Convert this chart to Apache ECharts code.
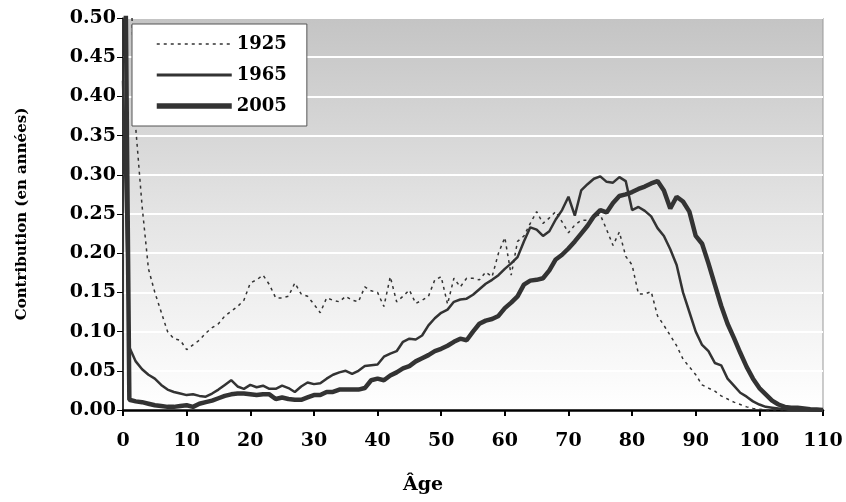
<!DOCTYPE html>
<html>
<head>
<meta charset="utf-8">
<script src="https://cdn.jsdelivr.net/npm/echarts@6/dist/echarts.min.js"></script>
<style>
  html, body { margin: 0; padding: 0; background: #fff; }
  #chart { width: 846px; height: 502px; }
</style>
</head>
<body>
<div id="chart"></div>
<script>
// ages 0..110
var ages = [];
for (var a = 0; a <= 110; a++) ages.push(a);

// contributions (years); age 0 of 1925/2005 runs off the top
var c1925 = [2.0, 0.6, 0.36, 0.26, 0.18, 0.15, 0.125, 0.10, 0.091, 0.089,
  0.077, 0.083, 0.089, 0.098, 0.105, 0.11, 0.12, 0.126, 0.132, 0.14,
  0.162, 0.166, 0.172, 0.16, 0.143, 0.143, 0.145, 0.162, 0.148, 0.145,
  0.135, 0.124, 0.143, 0.14, 0.138, 0.145, 0.14, 0.138, 0.157, 0.152,
  0.15, 0.132, 0.17, 0.138, 0.145, 0.153, 0.136, 0.14, 0.145, 0.166,
  0.17, 0.135, 0.168, 0.157, 0.168, 0.168, 0.166, 0.176, 0.17, 0.2,
  0.22, 0.172, 0.215, 0.222, 0.238, 0.253, 0.238, 0.245, 0.253, 0.24,
  0.226, 0.236, 0.242, 0.242, 0.247, 0.249, 0.23, 0.21, 0.227, 0.196,
  0.185, 0.148, 0.148, 0.151, 0.12, 0.108, 0.095, 0.082, 0.065, 0.055,
  0.045, 0.032, 0.028, 0.024, 0.018, 0.014, 0.01, 0.007, 0.004, 0.002,
  0.001, 0, 0, 0, 0, 0, 0, 0, 0, 0, 0];

var c1965 = [0.42, 0.08, 0.062, 0.052, 0.045, 0.04, 0.032, 0.026, 0.023, 0.021,
  0.019, 0.02, 0.018, 0.017, 0.021, 0.026, 0.032, 0.038, 0.03, 0.027,
  0.032, 0.029, 0.031, 0.027, 0.027, 0.031, 0.028, 0.023, 0.03, 0.035,
  0.033, 0.034, 0.04, 0.045, 0.048, 0.05, 0.046, 0.05, 0.056, 0.057,
  0.058, 0.068, 0.072, 0.075, 0.087, 0.091, 0.09, 0.095, 0.108, 0.117,
  0.124, 0.128, 0.138, 0.141, 0.142, 0.147, 0.154, 0.161, 0.166, 0.172,
  0.18, 0.187, 0.195, 0.215, 0.233, 0.23, 0.222, 0.228, 0.243, 0.255,
  0.272, 0.248, 0.28, 0.288, 0.295, 0.298, 0.291, 0.29, 0.297, 0.292,
  0.255, 0.259, 0.254, 0.247, 0.232, 0.222, 0.205, 0.185, 0.15, 0.125,
  0.1, 0.083, 0.075, 0.06, 0.057, 0.04, 0.031, 0.022, 0.017, 0.011,
  0.007, 0.004, 0.003, 0.002, 0.001, 0, 0, 0, 0, 0, 0];

var c2005 = [0.9, 0.013, 0.011, 0.01, 0.008, 0.006, 0.005, 0.004, 0.004, 0.005,
  0.006, 0.004, 0.008, 0.01, 0.012, 0.015, 0.018, 0.02, 0.021, 0.021,
  0.02, 0.019, 0.02, 0.02, 0.014, 0.016, 0.014, 0.013, 0.013, 0.016,
  0.019, 0.019, 0.023, 0.023, 0.026, 0.026, 0.026, 0.026, 0.028, 0.038,
  0.04, 0.038, 0.044, 0.048, 0.053, 0.056, 0.062, 0.066, 0.07, 0.075,
  0.078, 0.082, 0.087, 0.091, 0.089, 0.1, 0.11, 0.114, 0.116, 0.12,
  0.13, 0.137, 0.145, 0.16, 0.165, 0.166, 0.168, 0.178, 0.192, 0.198,
  0.206, 0.215, 0.225, 0.235, 0.247, 0.255, 0.252, 0.264, 0.273, 0.275,
  0.278, 0.282, 0.285, 0.289, 0.292, 0.28, 0.257, 0.272, 0.266, 0.253,
  0.222, 0.212, 0.187, 0.16, 0.133, 0.11, 0.092, 0.073, 0.055, 0.04,
  0.028, 0.02, 0.012, 0.007, 0.004, 0.003, 0.003, 0.002, 0.001, 0.0005, 0];

var seriesNames = ['1925', '1965', '2005'];
var yTicks = ['0.00', '0.05', '0.10', '0.15', '0.20', '0.25', '0.30', '0.35', '0.40', '0.45', '0.50'];

function pairs(vals) {
  return ages.map(function (x, i) { return [x, vals[i]]; });
}

var font = 'DejaVu Serif';
var ink = '#333333';
var dotted = [3, 4];

var myChart = echarts.init(document.getElementById('chart'));

option = {
    backgroundColor: '#fff',
    animation: false,
    title: {
        text: 'Âge',
        left: 'center',
        top: 471,
        textStyle: { fontFamily: font, fontWeight: 'bold', fontSize: 19, color: '#000' }
    },
    grid: {
        left: 123, right: 23, top: 18, bottom: 92,
        show: true,
        borderColor: '#999',
        borderWidth: 1,
        backgroundColor: {
            type: 'linear', x: 0, y: 0, x2: 0, y2: 1,
            colorStops: [
                { offset: 0, color: '#c4c4c4' },
                { offset: 0.5, color: '#e4e4e4' },
                { offset: 1, color: '#ffffff' }
            ]
        }
    },
    legend: {
        data: [
            { name: '1925', lineStyle: { width: 1.5, type: dotted } },
            { name: '1965', lineStyle: { width: 3 } },
            { name: '2005', lineStyle: { width: 5.5 } }
        ],
        orient: 'vertical',
        left: 132,
        top: 24,
        padding: [9, 20, 9, 22],
        itemWidth: 75,
        itemHeight: 14,
        itemGap: 9,
        backgroundColor: '#fff',
        borderColor: '#555',
        borderWidth: 1,
        itemStyle: { opacity: 0 },
        textStyle: { fontFamily: font, fontWeight: 'bold', fontSize: 18, color: '#000', lineHeight: 22 }
    },
    xAxis: {
        type: 'value',
        min: 0, max: 110, interval: 10,
        axisLine: { lineStyle: { color: '#000', width: 2.5 } },
        axisTick: { length: 6, lineStyle: { color: '#000', width: 2 } },
        splitLine: { show: false },
        axisLabel: { fontFamily: font, fontWeight: 'bold', fontSize: 19, color: '#000', margin: 22 }
    },
    yAxis: {
        type: 'value',
        min: 0, max: 0.5, interval: 0.05,
        name: 'Contribution (en années)',
        nameLocation: 'middle',
        nameGap: 93,
        nameTextStyle: { fontFamily: font, fontWeight: 'bold', fontSize: 15, color: '#000' },
        axisLine: { show: true, lineStyle: { color: '#000', width: 1.5 } },
        axisTick: { show: true, length: 6, lineStyle: { color: '#000', width: 1 } },
        splitLine: { lineStyle: { color: '#fff', width: 2 } },
        axisLabel: {
            fontFamily: font, fontWeight: 'bold', fontSize: 19, color: '#000', margin: 7,
            formatter: function (v) { return yTicks[Math.round(v / 0.05)]; }
        }
    },
    series: [
        {
            name: '1925', type: 'line', data: pairs(c1925), symbol: 'none', clip: true,
            lineStyle: { color: ink, width: 1.5, type: dotted }, itemStyle: { color: ink }
        },
        {
            name: '1965', type: 'line', data: pairs(c1965), symbol: 'none', clip: true,
            lineStyle: { color: ink, width: 2.5 }, itemStyle: { color: ink }
        },
        {
            name: '2005', type: 'line', data: pairs(c2005), symbol: 'none', clip: true,
            lineStyle: { color: ink, width: 4.5 }, itemStyle: { color: ink }
        }
    ]
};

myChart.setOption(option);
</script>
</body>
</html>
